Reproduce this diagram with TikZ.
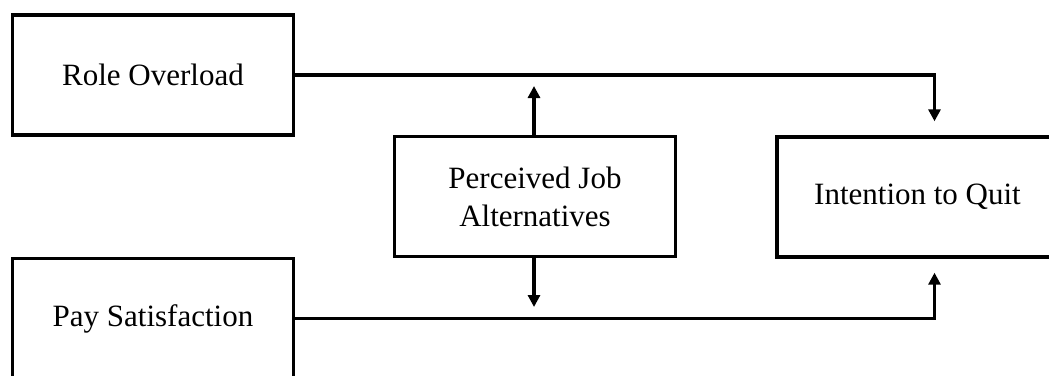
\documentclass[tikz,border=0pt]{standalone}
\usepackage{fontspec}
\setmainfont{Liberation Serif}
\usetikzlibrary{arrows.meta, calc}

\tikzset{
    box/.style={draw, line width=1.7pt, minimum width=140.5pt, minimum height=60pt,
        inner sep=0pt, align=center, font=\fontsize{15.5}{19}\selectfont},
    link/.style={line width=1.7pt, -{Triangle[length=6pt, width=6pt]}}
}

\begin{document}
\begin{tikzpicture}[x=0.5pt, y=-0.5pt]
    \useasboundingbox (0,0) rectangle (1049,375);
    \clip (0,0) rectangle (1049,375);

    \node[box] (role) at (153, 75) {Role Overload};
    \node[box] (pay) at (153, 318.5) {Pay Satisfaction};
    \node[box] (alt) at (535, 196.5) {Perceived Job\\Alternatives};
    \node[box] (quit) at (917.5, 197) {Intention to Quit};

    \coordinate (altup) at (534, 86);
    \coordinate (altdown) at (534, 307);

    \draw[link, shorten >=7pt] (role.east) -| ($(quit.north)+(17,0)$);
    \draw[link, shorten >=7pt] (pay.east) -| ($(quit.south)+(17,0)$);
    \draw[link] (alt.north -| altup) -- (altup);
    \draw[link] (alt.south -| altdown) -- (altdown);
\end{tikzpicture}
\end{document}
